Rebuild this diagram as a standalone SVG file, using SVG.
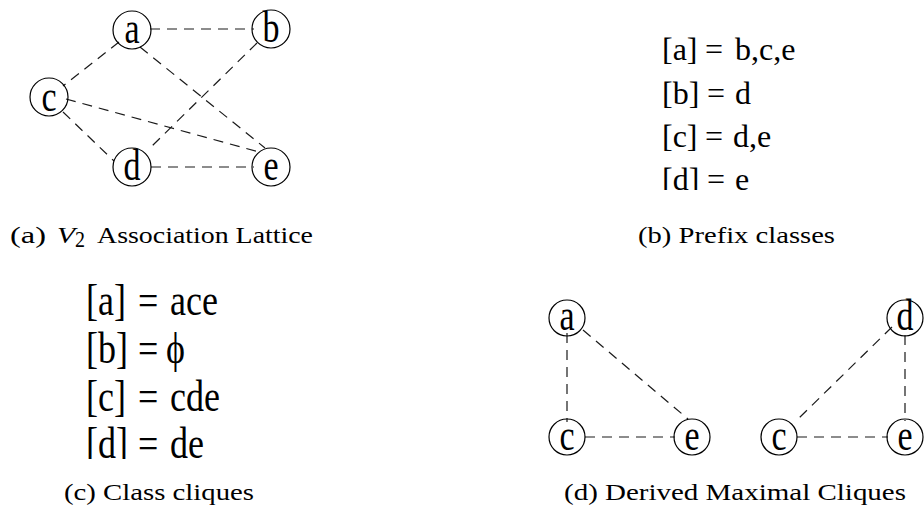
<svg xmlns="http://www.w3.org/2000/svg" width="924" height="516" viewBox="0 0 924 516">
<style>
.n{fill:none;stroke:#000;stroke-width:1.2}
.e{stroke:#1a1a1a;stroke-width:1.2;stroke-dasharray:10 7;fill:none}
.lbl{font-family:"Liberation Serif","Times New Roman",serif;font-size:34px;text-anchor:middle;fill:#000}
.tb{font-family:"Liberation Serif","Times New Roman",serif;font-size:32px;fill:#000}
.tc{font-family:"Liberation Serif","DejaVu Serif",serif;font-size:36px;fill:#000}
.cap{font-family:"Liberation Serif","Times New Roman",serif;font-size:23px;fill:#000}
</style>
<defs>
<clipPath id="clipB"><rect x="600" y="150" width="250" height="40"/></clipPath>
<clipPath id="clipC"><rect x="60" y="415" width="200" height="44"/></clipPath>
</defs>

<!-- Panel (a) -->
<g id="panel-a-edges" class="edges">
<line class="e" x1="150" y1="29" x2="254" y2="29"/>
<line class="e" x1="119" y1="42" x2="63" y2="86"/>
<line class="e" x1="140" y1="47" x2="265" y2="148"/>
<line class="e" x1="257" y1="43" x2="152" y2="146"/>
<line class="e" x1="66" y1="99" x2="259" y2="152"/>
<line class="e" x1="63" y1="112" x2="114" y2="161"/>
<line class="e" x1="151" y1="167" x2="254" y2="167"/>
</g>
<g id="a-a"><circle class="n" cx="132" cy="30" r="19"/><text class="lbl" transform="translate(132 43) scale(1 1.3)">a</text></g>
<g id="a-b"><circle class="n" cx="271" cy="29" r="19"/><text class="lbl" transform="translate(271 42) scale(1 1.3)">b</text></g>
<g id="a-c"><circle class="n" cx="49" cy="97" r="19"/><text class="lbl" transform="translate(49 111) scale(1 1.3)">c</text></g>
<g id="a-d"><circle class="n" cx="132" cy="167" r="19"/><text class="lbl" transform="translate(132 180) scale(1 1.3)">d</text></g>
<g id="a-e"><circle class="n" cx="271" cy="167" r="19"/><text class="lbl" transform="translate(271 180) scale(1 1.3)">e</text></g>

<!-- Panel (b) -->
<g id="panel-b">
<text class="tb" y="60"><tspan x="662">[a]</tspan><tspan x="705">=</tspan><tspan x="735">b,c,e</tspan></text>
<text class="tb" y="104"><tspan x="662">[b]</tspan><tspan x="707">=</tspan><tspan x="735">d</tspan></text>
<text class="tb" y="147"><tspan x="662">[c]</tspan><tspan x="705">=</tspan><tspan x="733">d,e</tspan></text>
<g clip-path="url(#clipB)"><text class="tb" y="190"><tspan x="662">[d]</tspan><tspan x="707">=</tspan><tspan x="735">e</tspan></text></g>
</g>

<!-- Panel (c) -->
<g id="panel-c">
<text class="tc" transform="translate(0 315) scale(1 1.25)"><tspan x="86">[a]</tspan><tspan x="138">=</tspan><tspan x="170">ace</tspan></text>
<text class="tc" transform="translate(0 363) scale(1 1.25)"><tspan x="86">[b]</tspan><tspan x="138">=</tspan><tspan x="166">ϕ</tspan></text>
<text class="tc" transform="translate(0 411) scale(1 1.25)"><tspan x="86">[c]</tspan><tspan x="138">=</tspan><tspan x="170">cde</tspan></text>
<g clip-path="url(#clipC)"><text class="tc" transform="translate(0 458) scale(1 1.25)"><tspan x="86">[d]</tspan><tspan x="138">=</tspan><tspan x="170">de</tspan></text></g>
</g>

<!-- Panel (d) -->
<g id="panel-d-edges" class="edges">
<line class="e" x1="567" y1="333" x2="567" y2="422"/>
<line class="e" x1="583" y1="330" x2="688" y2="419"/>
<line class="e" x1="585" y1="437" x2="675" y2="437"/>
<line class="e" x1="892" y1="327" x2="799" y2="418"/>
<line class="e" x1="905" y1="335" x2="905" y2="421"/>
<line class="e" x1="797" y1="437" x2="888" y2="437"/>
</g>
<g id="d-a"><circle class="n" cx="567" cy="318" r="18"/><text class="lbl" transform="translate(567 330) scale(1 1.3)">a</text></g>
<g id="d-c"><circle class="n" cx="567" cy="437" r="18"/><text class="lbl" transform="translate(567 450) scale(1 1.3)">c</text></g>
<g id="d-e"><circle class="n" cx="692" cy="437" r="18"/><text class="lbl" transform="translate(692 450) scale(1 1.3)">e</text></g>
<g id="d-c2"><circle class="n" cx="779" cy="437" r="18"/><text class="lbl" transform="translate(779 450) scale(1 1.3)">c</text></g>
<g id="d-d"><circle class="n" cx="905" cy="318" r="18"/><text class="lbl" transform="translate(905 330) scale(1 1.3)">d</text></g>
<g id="d-e2"><circle class="n" cx="905" cy="437" r="18"/><text class="lbl" transform="translate(905 450) scale(1 1.3)">e</text></g>

<!-- Captions -->
<g id="captions">
<text class="cap" x="10" y="243" textLength="36" lengthAdjust="spacingAndGlyphs">(a)</text>
<text class="cap" x="57" y="243" font-style="italic" textLength="18" lengthAdjust="spacingAndGlyphs">V</text>
<text class="cap" x="75" y="247" font-size="16" textLength="10" lengthAdjust="spacingAndGlyphs">2</text>
<text class="cap" x="97" y="243" textLength="216" lengthAdjust="spacingAndGlyphs">Association Lattice</text>
<text class="cap" x="638" y="243" textLength="197" lengthAdjust="spacingAndGlyphs">(b) Prefix classes</text>
<text class="cap" x="64" y="500" textLength="190" lengthAdjust="spacingAndGlyphs">(c) Class cliques</text>
<text class="cap" x="564" y="500" textLength="342" lengthAdjust="spacingAndGlyphs">(d) Derived Maximal Cliques</text>
</g>
</svg>
